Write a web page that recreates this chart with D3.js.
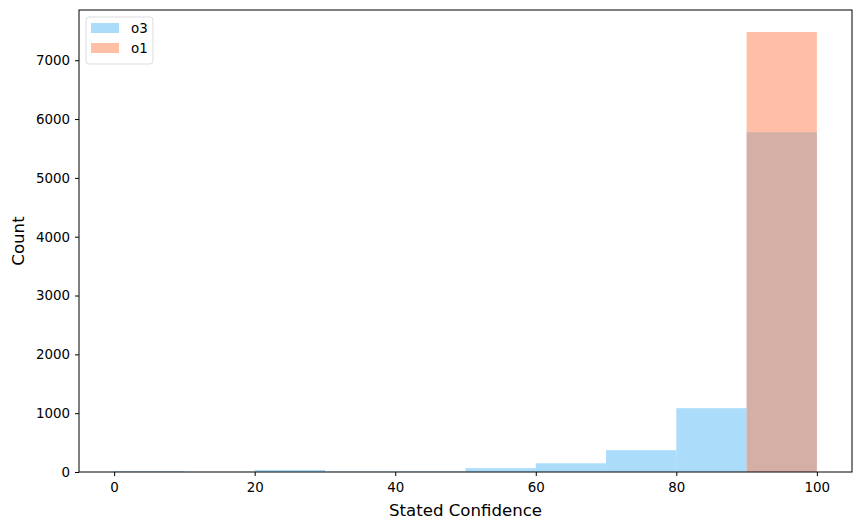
<!DOCTYPE html>
<html>
<head>
	<script src="https://cdn.jsdelivr.net/npm/d3@7"></script>
	<style>
		body { margin: 0; background: #fff; }
		text { font-family: "DejaVu Sans", sans-serif; fill: #000; }
	</style>
</head>
<body>
	<div id="chart"></div>
	<script>
		// histogram bins (width 10) and counts
		var binStarts = [0, 10, 20, 30, 40, 50, 60, 70, 80, 90];
		var o3Counts = [14, 3, 35, 6, 8, 65, 148, 372, 1085, 5775];
		var o1Counts = [0, 0, 0, 0, 0, 0, 0, 0, 0, 7480];
		var xTicks = [0, 20, 40, 60, 80, 100];
		var yTicks = [0, 1000, 2000, 3000, 4000, 5000, 6000, 7000];

		var width = 863, height = 529;
		// plot frame (window.top is read-only, so no "top" here)
		var plotL = 79, plotR = 852, plotT = 10, plotB = 472;

		var o3Color = "#87cefa", o3Alpha = 0.7;
		var o1Color = "#ff7f50", o1Alpha = 0.5;

		var svg = d3.select("#chart").append("svg")
			.attr("width", width)
			.attr("height", height);

		var x = d3.scaleLinear().domain([-5, 105]).range([plotL, plotR]);
		var ymax = d3.max(o1Counts.concat(o3Counts)) * 1.05;
		var y = d3.scaleLinear().domain([0, ymax]).range([plotB, plotT]);

		function drawBars(counts, color, alpha) {
			svg.append("g").selectAll("rect")
				.data(binStarts)
				.enter().append("rect")
				.attr("x", function(d) { return x(d); })
				.attr("width", function(d) { return x(d + 10) - x(d); })
				.attr("y", function(d, i) { return y(counts[i]); })
				.attr("height", function(d, i) { return y(0) - y(counts[i]); })
				.attr("fill", color)
				.attr("fill-opacity", alpha);
		}

		drawBars(o3Counts, o3Color, o3Alpha);
		drawBars(o1Counts, o1Color, o1Alpha);

		// axes
		var xAxis = svg.append("g")
			.attr("transform", "translate(0," + plotB + ")")
			.call(d3.axisBottom(x).tickValues(xTicks).tickSize(4).tickPadding(6));
		var yAxis = svg.append("g")
			.attr("transform", "translate(" + plotL + ",0)")
			.call(d3.axisLeft(y).tickValues(yTicks).tickSize(4).tickPadding(5).tickFormat(d3.format("d")));
		[xAxis, yAxis].forEach(function(a) {
			a.select(".domain").remove();
			a.selectAll("text").style("font-size", "13.4px").style("font-family", "DejaVu Sans");
			a.selectAll("line").attr("stroke", "#000");
		});

		svg.append("rect")
			.attr("x", plotL).attr("y", plotT)
			.attr("width", plotR - plotL).attr("height", plotB - plotT)
			.attr("fill", "none").attr("stroke", "#000").attr("stroke-width", 1);

		svg.append("text")
			.attr("x", (plotL + plotR) / 2).attr("y", 516)
			.attr("text-anchor", "middle")
			.style("font-size", "16.6px")
			.text("Stated Confidence");

		svg.append("text")
			.attr("transform", "translate(24," + ((plotT + plotB) / 2) + ") rotate(-90)")
			.attr("text-anchor", "middle")
			.style("font-size", "16.6px")
			.text("Count");

		// legend
		var legend = svg.append("g");
		legend.append("rect")
			.attr("x", 86).attr("y", 17).attr("width", 67).attr("height", 47)
			.attr("rx", 3).attr("fill", "#fff").attr("fill-opacity", 0.8)
			.attr("stroke", "#ddd");
		var items = [["o3", o3Color, o3Alpha], ["o1", o1Color, o1Alpha]];
		items.forEach(function(it, i) {
			legend.append("rect")
				.attr("x", 91).attr("y", 23 + i * 20).attr("width", 28).attr("height", 10)
				.attr("fill", it[1]).attr("fill-opacity", it[2]);
			legend.append("text")
				.attr("x", 131).attr("y", 33 + i * 20)
				.style("font-size", "13.4px")
				.text(it[0]);
		});
	</script>
</body>
</html>
